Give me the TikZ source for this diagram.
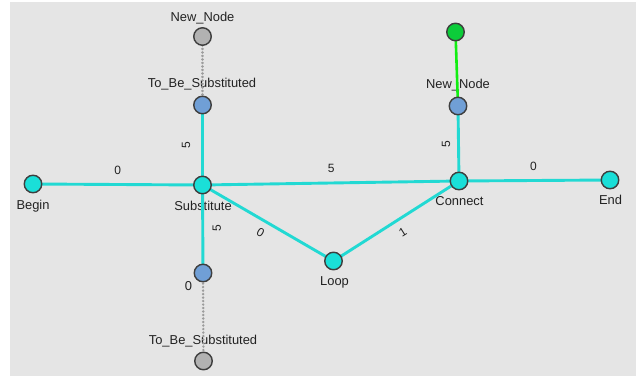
\documentclass[tikz,border=0pt]{standalone}
\usepackage{fontspec}
\setmainfont{Liberation Sans}
\definecolor{canvas}{HTML}{E5E5E5}
\definecolor{turq}{HTML}{1ADFD8}
\definecolor{turqline}{HTML}{22D9D3}
\definecolor{steel}{HTML}{709FD6}
\definecolor{ghost}{HTML}{B2B2B2}
\definecolor{ghostdot}{HTML}{9C9C9C}
\definecolor{fresh}{HTML}{0CCC3A}
\definecolor{freshline}{HTML}{12EE12}
\definecolor{rim}{HTML}{3E3E3E}
\definecolor{ink}{HTML}{222222}
\tikzset{
  vertex/.style={circle, draw=rim, line width=1.4pt, minimum size=17.5pt, inner sep=0pt},
  main/.style={vertex, fill=turq},
  sub/.style={vertex, fill=steel},
  ghostv/.style={vertex, fill=ghost},
  freshv/.style={vertex, fill=fresh},
  link/.style={draw=turqline, line width=2.9pt},
  ghostlink/.style={draw=ghostdot, line width=2.6pt, line cap=round, dash pattern=on 0.1pt off 3.4pt},
  freshlink/.style={draw=freshline, line width=2.6pt},
  nlab/.style={font=\fontsize{12.9}{15}\selectfont, text=ink, anchor=base, inner sep=0pt},
  elab/.style={font=\fontsize{12}{14}\selectfont, text=ink, inner sep=0pt, anchor=center}
}
\begin{document}
\begin{tikzpicture}[x=1pt, y=-1pt]
  % page and canvas
  \useasboundingbox (0,0) rectangle (636,379);
  \fill[white] (0,0) rectangle (636,379);
  \fill[canvas] (10,2) rectangle (636,376);

  % node labels (drawn under the connectors)
  \node[nlab] (lbegin) at (33,209.5) {Begin};
  \node[nlab] (lsub) at (203,210.5) {Substitute};
  \node[nlab] (lcon) at (459.5,205.5) {Connect};
  \node[nlab] (lend) at (610.5,204.5) {End};
  \node[nlab] (lloop) at (334.5,285.5) {Loop};
  \node[nlab] (ltbt) at (202,87.5) {To\_Be\_Substituted};
  \node[nlab] (lnnt) at (202.5,21.5) {New\_Node};
  \node[nlab] (lnnr) at (458,89) {New\_Node};
  \node[nlab] (ltbb) at (203,344.5) {To\_Be\_Substituted};
  \node[nlab] (lzero) at (188.5,290.5) {0};

  % vertex positions
  \coordinate (pbegin) at (33,184);
  \coordinate (psub) at (202.5,185);
  \coordinate (pcon) at (459,181);
  \coordinate (pend) at (610,180);
  \coordinate (ploop) at (333.5,261);
  \coordinate (ptbt) at (202.5,105);
  \coordinate (pnnt) at (202.5,36.5);
  \coordinate (ptbb) at (203,273);
  \coordinate (pnnb) at (203.5,361);
  \coordinate (pnnr) at (458,106);
  \coordinate (pgreen) at (455.5,32);

  % connectors
  \draw[ghostlink] (ptbt) -- (pnnt);
  \draw[ghostlink] (ptbb) -- (pnnb);
  \draw[freshlink] (pgreen) -- (pnnr);
  \draw[link] (pbegin) -- node[elab, shift={(0,-14.5)}] {0} (psub);
  \draw[link] (psub) -- node[elab, shift={(0.5,-15)}] {5} (pcon);
  \draw[link] (pcon) -- node[elab, shift={(-1,-14.5)}] {0} (pend);
  \draw[link] (psub) -- node[elab, shift={(-16.5,0)}, rotate=90] {5} (ptbt);
  \draw[link] (psub) -- node[elab, shift={(14,-0.5)}, rotate=90] {5} (ptbb);
  \draw[link] (pcon) -- node[elab, shift={(-12.5,0.5)}, rotate=90] {5} (pnnr);
  \draw[link] (psub) -- node[elab, shift={(-7.5,10)}, rotate=-30] {0} (ploop);
  \draw[link] (ploop) -- node[elab, shift={(6.5,11)}, rotate=32] {1} (pcon);

  % vertices
  \node[main] (begin) at (pbegin) {};
  \node[main] (sub) at (psub) {};
  \node[main] (con) at (pcon) {};
  \node[main] (end) at (pend) {};
  \node[main] (loop) at (ploop) {};
  \node[sub] (tbt) at (ptbt) {};
  \node[sub] (tbb) at (ptbb) {};
  \node[sub] (nnr) at (pnnr) {};
  \node[ghostv] (nnt) at (pnnt) {};
  \node[ghostv] (nnb) at (pnnb) {};
  \node[freshv] (green) at (pgreen) {};
\end{tikzpicture}
\end{document}
